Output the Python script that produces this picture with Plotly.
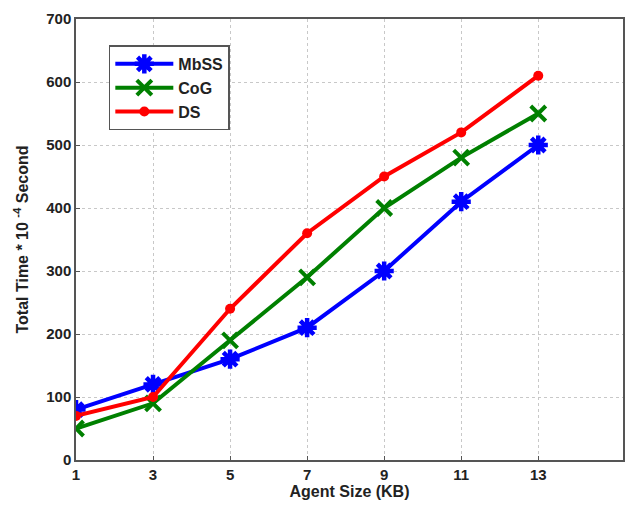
import plotly.graph_objects as go

x = [1, 3, 5, 7, 9, 11, 13]
mbss = [80, 120, 160, 210, 300, 410, 500]
cog = [50, 90, 190, 290, 400, 480, 550]
ds = [70, 100, 240, 360, 450, 520, 610]
xticks = [1, 3, 5, 7, 9, 11, 13]
yticks = [0, 100, 200, 300, 400, 500, 600, 700]

fig = go.Figure()
fig.add_trace(go.Scatter(x=x, y=mbss, name="<b>MbSS</b>", mode="lines+markers",
                         line=dict(color="#0000ff", width=4),
                         marker=dict(symbol="asterisk-open", size=16, color="#0000ff",
                                     line=dict(width=4.5, color="#0000ff"))))
fig.add_trace(go.Scatter(x=x, y=cog, name="<b>CoG</b>", mode="lines+markers",
                         line=dict(color="#008000", width=4),
                         marker=dict(symbol="x-thin-open", size=15, color="#008000",
                                     line=dict(width=4, color="#008000"))))
fig.add_trace(go.Scatter(x=x, y=ds, name="<b>DS</b>", mode="lines+markers",
                         line=dict(color="#ff0000", width=4),
                         marker=dict(symbol="circle", size=10, color="#ff0000")))

axis_common = dict(showline=True, linecolor="#555555", linewidth=1.5, mirror=True,
                   showgrid=True, gridcolor="#c8c8c8", griddash="dot", gridwidth=1,
                   ticks="inside", ticklen=4, tickcolor="#555555", zeroline=False,
                   tickfont=dict(family="Liberation Sans", size=15, color="#222222"))

fig.update_layout(
    width=641, height=512,
    margin=dict(l=68, r=26, t=11, b=60, autoexpand=False),
    paper_bgcolor="white", plot_bgcolor="white",
    font=dict(family="Liberation Sans", color="#222222"),
    xaxis=dict(range=[1, 15.2], tickvals=xticks, ticktext=[f"<b>{v}</b>" for v in xticks],
               title=dict(text="<b>Agent Size (KB)</b>", font=dict(size=16), standoff=4),
               **axis_common),
    yaxis=dict(range=[0, 700], tickvals=yticks, ticktext=[f"<b>{v}</b>" for v in yticks],
               title=dict(text="<b>Total Time * 10 <sup>-4</sup> Second</b>", font=dict(size=16), standoff=14),
               **axis_common),
    legend=dict(x=0.06, y=0.94, xanchor="left", yanchor="top",
                bgcolor="white", bordercolor="#555555", borderwidth=1.5,
                font=dict(size=16, family="Liberation Sans"), itemwidth=58,
                tracegroupgap=0),
)

fig.write_html("out.html")
